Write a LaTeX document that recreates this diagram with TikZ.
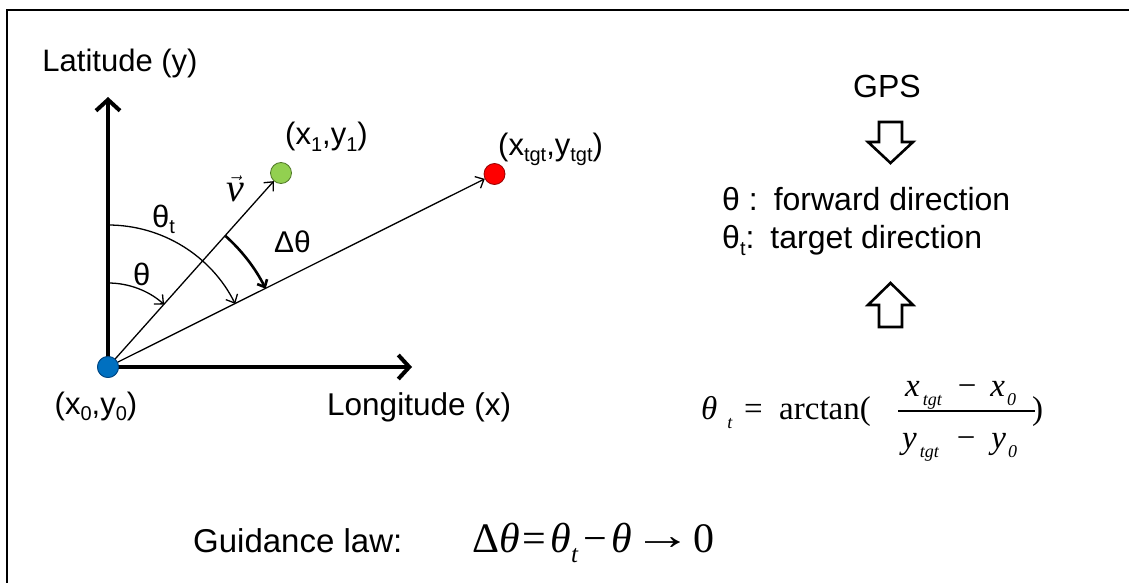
\documentclass[tikz,border=0pt]{standalone}
\usepackage{fontspec}
\usepackage{graphicx}
\setmainfont{Liberation Sans}
\newfontfamily\tms{Liberation Serif}
\usetikzlibrary{arrows.meta}
\newcommand\myfs[1]{\fontsize{#1}{#1}\selectfont}
\newcommand\lsub[1]{\raisebox{-0.22em}{\myfs{20}#1}}
\newcommand\msub[1]{\raisebox{-0.28em}{\myfs{18}\itshape #1}}
\begin{document}
\begin{tikzpicture}[x=1pt,y=1pt,
  lbl/.style={inner sep=0pt, font={\myfs{31}}},
  tlbl/.style={inner sep=0pt, font={\tms\myfs{33}}},
  axis/.style={line width=4pt, -{Straight Barb[length=11pt,width=24pt]}},
  thinarr/.style={line width=1.3pt, -{Straight Barb[length=7pt,width=13pt]}},
  thickarr/.style={line width=2.6pt, -{Straight Barb[length=6pt,width=11pt]}},
  dot/.style={circle, inner sep=0pt, minimum size=21pt, line width=0.8pt},
  blockarrow/.style={line width=2.6pt, line join=miter}]
\useasboundingbox (0,0) rectangle (1129,-583);
% frame
\draw[line width=2.6pt] (7,-590) -- (7,-10) -- (1140,-10);

% points
\node[dot, fill={rgb,255:red,0;green,112;blue,192}, draw={rgb,255:red,0;green,70;blue,130}] (O) at (108,-367) {};
\node[dot, fill={rgb,255:red,146;green,208;blue,80}, draw={rgb,255:red,80;green,120;blue,40}] (G) at (281,-173) {};
\node[dot, fill=red, draw={rgb,255:red,150;green,0;blue,0}] (R) at (494.5,-174) {};
\coordinate (ytip) at (108,-97);
\coordinate (xtip) at (412,-367);

% axes
\draw[axis] (O.center) -- (ytip);
\draw[axis] (O.center) -- (xtip);
\node[dot, fill={rgb,255:red,0;green,112;blue,192}, draw={rgb,255:red,0;green,70;blue,130}] at (O) {};

% vectors
\draw[thinarr] (O) -- (G);
\draw[thinarr] (O) -- (R);

% angle arcs
\draw[thinarr] ([shift={(90:84)}]O.center) arc[start angle=90, end angle=48.1, radius=84];
\draw[thinarr] ([shift={(90:142)}]O.center) arc[start angle=90, end angle=26.4, radius=142];
\draw[thickarr] ([shift={(48.1:176)}]O.center) arc[start angle=48.1, end angle=26.4, radius=176];

% labels left
\node[lbl, anchor=base] (lat) at (120,-72) {Latitude (y)};
\node[lbl, anchor=base west] (lx1) at (285,-145) {(x\lsub{1},y\lsub{1})};
\node[lbl, anchor=base west] (ltgt) at (498,-155) {(x\lsub{tgt},y\lsub{tgt})};
\node[lbl, anchor=base] (lx0) at (96,-414) {(x\lsub{0},y\lsub{0})};
\node[lbl, anchor=base west, font={\myfs{31.5}}] (lon) at (327,-415) {Longitude (x)};
\node[inner sep=0pt, anchor=base, font={\myfs{40}}] (lv) at (235,-201) {$\vec{\mbox{\tms\itshape v}}$};
\node[lbl, anchor=base west] (lth) at (133,-285) {θ};
\node[lbl, anchor=base west] (ltht) at (152,-227) {θ\lsub{t}};
\node[lbl, anchor=base west, font={\myfs{30}}] (ldth) at (274,-252) {Δθ};

% right side
\node[lbl, anchor=base, font={\myfs{32}}] (gps) at (887,-98) {GPS};
\draw[blockarrow] (879,-122) -- (902,-122) -- (902,-142) -- (913,-142) -- (890.5,-163) -- (868,-142) -- (879,-142) -- cycle;
\node[lbl, anchor=base west, font={\myfs{32}}] (fwd) at (722,-210) {θ :\hspace{16pt}forward direction};
\node[lbl, anchor=base west, font={\myfs{32}}] (tgtd) at (722,-248) {θ\lsub{t}:\hspace{16pt}target direction};
\draw[blockarrow] (879,-327) -- (902,-327) -- (902,-305) -- (913,-305) -- (890.5,-283) -- (868,-305) -- (879,-305) -- cycle;

% arctan formula
\node[tlbl, anchor=base west] (fth) at (701,-419) {\itshape θ\hspace{10pt}\msub{t}};
\node[tlbl, anchor=base west] (feq) at (744,-419) {=};
\node[tlbl, anchor=base west] (farc) at (779,-419) {arctan(};
\node[tlbl, anchor=base west] (fnum) at (905,-396) {\itshape x\hspace{3pt}\msub{tgt}\hspace{16pt}\upshape −\hspace{14pt}\itshape x\hspace{2pt}\msub{0}};
\node[tlbl, anchor=base west] (fden) at (902,-448) {\itshape y\hspace{3pt}\msub{tgt}\hspace{18pt}\upshape −\hspace{16pt}\itshape y\hspace{2pt}\msub{0}};
\coordinate (barl) at (898,-411);
\coordinate (barr) at (1035,-411);
\draw[line width=1.2pt] (barl) -- (barr);
\node[tlbl, anchor=base west] (fcl) at (1032,-419) {)};

% guidance law
\node[lbl, anchor=base west, font={\myfs{33}}] (glaw) at (193,-552) {Guidance law:};
\node[tlbl, anchor=base west, font={\tms\myfs{42}}] (gform) at (472,-552) {Δ\textit{θ}\hspace{3pt}=\hspace{4pt}\textit{θ}\raisebox{-0.25em}{\myfs{25}\itshape t}\hspace{5pt}−\hspace{5pt}\textit{θ}\hspace{1pt}\raisebox{0.06em}{\scalebox{1.4}[1]{→}}\hspace{1pt}0};
\end{tikzpicture}
\end{document}
